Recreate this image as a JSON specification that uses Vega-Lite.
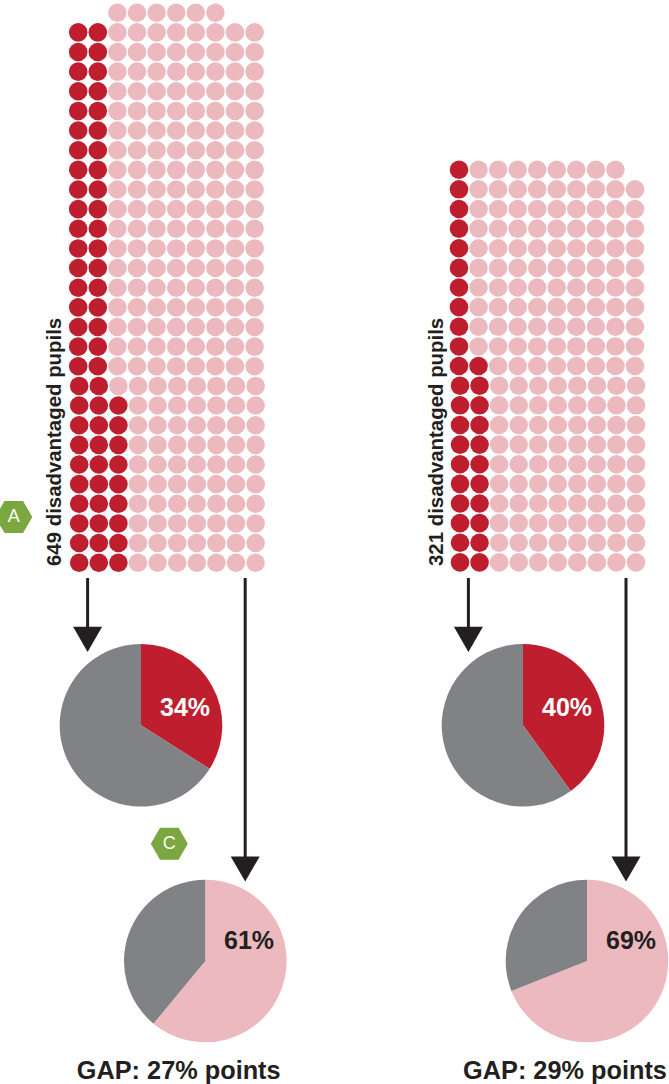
{
"$schema":"https://vega.github.io/schema/vega-lite/v6.json",
"width":669,"height":1084,"padding":0,
"autosize":{"type":"none"},
"background":"white",
"config":{"view":{"stroke":null}},
"datasets":{
"dotsLeft":[
{"col":0,"row":0,"met":1},{"col":1,"row":0,"met":1},{"col":2,"row":0,"met":1},{"col":3,"row":0,"met":0},{"col":4,"row":0,"met":0},{"col":5,"row":0,"met":0},{"col":6,"row":0,"met":0},{"col":7,"row":0,"met":0},{"col":8,"row":0,"met":0},{"col":9,"row":0,"met":0},
{"col":0,"row":1,"met":1},{"col":1,"row":1,"met":1},{"col":2,"row":1,"met":1},{"col":3,"row":1,"met":0},{"col":4,"row":1,"met":0},{"col":5,"row":1,"met":0},{"col":6,"row":1,"met":0},{"col":7,"row":1,"met":0},{"col":8,"row":1,"met":0},{"col":9,"row":1,"met":0},
{"col":0,"row":2,"met":1},{"col":1,"row":2,"met":1},{"col":2,"row":2,"met":1},{"col":3,"row":2,"met":0},{"col":4,"row":2,"met":0},{"col":5,"row":2,"met":0},{"col":6,"row":2,"met":0},{"col":7,"row":2,"met":0},{"col":8,"row":2,"met":0},{"col":9,"row":2,"met":0},
{"col":0,"row":3,"met":1},{"col":1,"row":3,"met":1},{"col":2,"row":3,"met":1},{"col":3,"row":3,"met":0},{"col":4,"row":3,"met":0},{"col":5,"row":3,"met":0},{"col":6,"row":3,"met":0},{"col":7,"row":3,"met":0},{"col":8,"row":3,"met":0},{"col":9,"row":3,"met":0},
{"col":0,"row":4,"met":1},{"col":1,"row":4,"met":1},{"col":2,"row":4,"met":1},{"col":3,"row":4,"met":0},{"col":4,"row":4,"met":0},{"col":5,"row":4,"met":0},{"col":6,"row":4,"met":0},{"col":7,"row":4,"met":0},{"col":8,"row":4,"met":0},{"col":9,"row":4,"met":0},
{"col":0,"row":5,"met":1},{"col":1,"row":5,"met":1},{"col":2,"row":5,"met":1},{"col":3,"row":5,"met":0},{"col":4,"row":5,"met":0},{"col":5,"row":5,"met":0},{"col":6,"row":5,"met":0},{"col":7,"row":5,"met":0},{"col":8,"row":5,"met":0},{"col":9,"row":5,"met":0},
{"col":0,"row":6,"met":1},{"col":1,"row":6,"met":1},{"col":2,"row":6,"met":1},{"col":3,"row":6,"met":0},{"col":4,"row":6,"met":0},{"col":5,"row":6,"met":0},{"col":6,"row":6,"met":0},{"col":7,"row":6,"met":0},{"col":8,"row":6,"met":0},{"col":9,"row":6,"met":0},
{"col":0,"row":7,"met":1},{"col":1,"row":7,"met":1},{"col":2,"row":7,"met":1},{"col":3,"row":7,"met":0},{"col":4,"row":7,"met":0},{"col":5,"row":7,"met":0},{"col":6,"row":7,"met":0},{"col":7,"row":7,"met":0},{"col":8,"row":7,"met":0},{"col":9,"row":7,"met":0},
{"col":0,"row":8,"met":1},{"col":1,"row":8,"met":1},{"col":2,"row":8,"met":1},{"col":3,"row":8,"met":0},{"col":4,"row":8,"met":0},{"col":5,"row":8,"met":0},{"col":6,"row":8,"met":0},{"col":7,"row":8,"met":0},{"col":8,"row":8,"met":0},{"col":9,"row":8,"met":0},
{"col":0,"row":9,"met":1},{"col":1,"row":9,"met":1},{"col":2,"row":9,"met":0},{"col":3,"row":9,"met":0},{"col":4,"row":9,"met":0},{"col":5,"row":9,"met":0},{"col":6,"row":9,"met":0},{"col":7,"row":9,"met":0},{"col":8,"row":9,"met":0},{"col":9,"row":9,"met":0},
{"col":0,"row":10,"met":1},{"col":1,"row":10,"met":1},{"col":2,"row":10,"met":0},{"col":3,"row":10,"met":0},{"col":4,"row":10,"met":0},{"col":5,"row":10,"met":0},{"col":6,"row":10,"met":0},{"col":7,"row":10,"met":0},{"col":8,"row":10,"met":0},{"col":9,"row":10,"met":0},
{"col":0,"row":11,"met":1},{"col":1,"row":11,"met":1},{"col":2,"row":11,"met":0},{"col":3,"row":11,"met":0},{"col":4,"row":11,"met":0},{"col":5,"row":11,"met":0},{"col":6,"row":11,"met":0},{"col":7,"row":11,"met":0},{"col":8,"row":11,"met":0},{"col":9,"row":11,"met":0},
{"col":0,"row":12,"met":1},{"col":1,"row":12,"met":1},{"col":2,"row":12,"met":0},{"col":3,"row":12,"met":0},{"col":4,"row":12,"met":0},{"col":5,"row":12,"met":0},{"col":6,"row":12,"met":0},{"col":7,"row":12,"met":0},{"col":8,"row":12,"met":0},{"col":9,"row":12,"met":0},
{"col":0,"row":13,"met":1},{"col":1,"row":13,"met":1},{"col":2,"row":13,"met":0},{"col":3,"row":13,"met":0},{"col":4,"row":13,"met":0},{"col":5,"row":13,"met":0},{"col":6,"row":13,"met":0},{"col":7,"row":13,"met":0},{"col":8,"row":13,"met":0},{"col":9,"row":13,"met":0},
{"col":0,"row":14,"met":1},{"col":1,"row":14,"met":1},{"col":2,"row":14,"met":0},{"col":3,"row":14,"met":0},{"col":4,"row":14,"met":0},{"col":5,"row":14,"met":0},{"col":6,"row":14,"met":0},{"col":7,"row":14,"met":0},{"col":8,"row":14,"met":0},{"col":9,"row":14,"met":0},
{"col":0,"row":15,"met":1},{"col":1,"row":15,"met":1},{"col":2,"row":15,"met":0},{"col":3,"row":15,"met":0},{"col":4,"row":15,"met":0},{"col":5,"row":15,"met":0},{"col":6,"row":15,"met":0},{"col":7,"row":15,"met":0},{"col":8,"row":15,"met":0},{"col":9,"row":15,"met":0},
{"col":0,"row":16,"met":1},{"col":1,"row":16,"met":1},{"col":2,"row":16,"met":0},{"col":3,"row":16,"met":0},{"col":4,"row":16,"met":0},{"col":5,"row":16,"met":0},{"col":6,"row":16,"met":0},{"col":7,"row":16,"met":0},{"col":8,"row":16,"met":0},{"col":9,"row":16,"met":0},
{"col":0,"row":17,"met":1},{"col":1,"row":17,"met":1},{"col":2,"row":17,"met":0},{"col":3,"row":17,"met":0},{"col":4,"row":17,"met":0},{"col":5,"row":17,"met":0},{"col":6,"row":17,"met":0},{"col":7,"row":17,"met":0},{"col":8,"row":17,"met":0},{"col":9,"row":17,"met":0},
{"col":0,"row":18,"met":1},{"col":1,"row":18,"met":1},{"col":2,"row":18,"met":0},{"col":3,"row":18,"met":0},{"col":4,"row":18,"met":0},{"col":5,"row":18,"met":0},{"col":6,"row":18,"met":0},{"col":7,"row":18,"met":0},{"col":8,"row":18,"met":0},{"col":9,"row":18,"met":0},
{"col":0,"row":19,"met":1},{"col":1,"row":19,"met":1},{"col":2,"row":19,"met":0},{"col":3,"row":19,"met":0},{"col":4,"row":19,"met":0},{"col":5,"row":19,"met":0},{"col":6,"row":19,"met":0},{"col":7,"row":19,"met":0},{"col":8,"row":19,"met":0},{"col":9,"row":19,"met":0},
{"col":0,"row":20,"met":1},{"col":1,"row":20,"met":1},{"col":2,"row":20,"met":0},{"col":3,"row":20,"met":0},{"col":4,"row":20,"met":0},{"col":5,"row":20,"met":0},{"col":6,"row":20,"met":0},{"col":7,"row":20,"met":0},{"col":8,"row":20,"met":0},{"col":9,"row":20,"met":0},
{"col":0,"row":21,"met":1},{"col":1,"row":21,"met":1},{"col":2,"row":21,"met":0},{"col":3,"row":21,"met":0},{"col":4,"row":21,"met":0},{"col":5,"row":21,"met":0},{"col":6,"row":21,"met":0},{"col":7,"row":21,"met":0},{"col":8,"row":21,"met":0},{"col":9,"row":21,"met":0},
{"col":0,"row":22,"met":1},{"col":1,"row":22,"met":1},{"col":2,"row":22,"met":0},{"col":3,"row":22,"met":0},{"col":4,"row":22,"met":0},{"col":5,"row":22,"met":0},{"col":6,"row":22,"met":0},{"col":7,"row":22,"met":0},{"col":8,"row":22,"met":0},{"col":9,"row":22,"met":0},
{"col":0,"row":23,"met":1},{"col":1,"row":23,"met":1},{"col":2,"row":23,"met":0},{"col":3,"row":23,"met":0},{"col":4,"row":23,"met":0},{"col":5,"row":23,"met":0},{"col":6,"row":23,"met":0},{"col":7,"row":23,"met":0},{"col":8,"row":23,"met":0},{"col":9,"row":23,"met":0},
{"col":0,"row":24,"met":1},{"col":1,"row":24,"met":1},{"col":2,"row":24,"met":0},{"col":3,"row":24,"met":0},{"col":4,"row":24,"met":0},{"col":5,"row":24,"met":0},{"col":6,"row":24,"met":0},{"col":7,"row":24,"met":0},{"col":8,"row":24,"met":0},{"col":9,"row":24,"met":0},
{"col":0,"row":25,"met":1},{"col":1,"row":25,"met":1},{"col":2,"row":25,"met":0},{"col":3,"row":25,"met":0},{"col":4,"row":25,"met":0},{"col":5,"row":25,"met":0},{"col":6,"row":25,"met":0},{"col":7,"row":25,"met":0},{"col":8,"row":25,"met":0},{"col":9,"row":25,"met":0},
{"col":0,"row":26,"met":1},{"col":1,"row":26,"met":1},{"col":2,"row":26,"met":0},{"col":3,"row":26,"met":0},{"col":4,"row":26,"met":0},{"col":5,"row":26,"met":0},{"col":6,"row":26,"met":0},{"col":7,"row":26,"met":0},{"col":8,"row":26,"met":0},{"col":9,"row":26,"met":0},
{"col":0,"row":27,"met":1},{"col":1,"row":27,"met":1},{"col":2,"row":27,"met":0},{"col":3,"row":27,"met":0},{"col":4,"row":27,"met":0},{"col":5,"row":27,"met":0},{"col":6,"row":27,"met":0},{"col":7,"row":27,"met":0},{"col":8,"row":27,"met":0},{"col":9,"row":27,"met":0},
{"col":2,"row":28,"met":0},{"col":3,"row":28,"met":0},{"col":4,"row":28,"met":0},{"col":5,"row":28,"met":0},{"col":6,"row":28,"met":0},{"col":7,"row":28,"met":0}
],
"dotsRight":[
{"col":0,"row":0,"met":1},{"col":1,"row":0,"met":1},{"col":2,"row":0,"met":0},{"col":3,"row":0,"met":0},{"col":4,"row":0,"met":0},{"col":5,"row":0,"met":0},{"col":6,"row":0,"met":0},{"col":7,"row":0,"met":0},{"col":8,"row":0,"met":0},{"col":9,"row":0,"met":0},
{"col":0,"row":1,"met":1},{"col":1,"row":1,"met":1},{"col":2,"row":1,"met":0},{"col":3,"row":1,"met":0},{"col":4,"row":1,"met":0},{"col":5,"row":1,"met":0},{"col":6,"row":1,"met":0},{"col":7,"row":1,"met":0},{"col":8,"row":1,"met":0},{"col":9,"row":1,"met":0},
{"col":0,"row":2,"met":1},{"col":1,"row":2,"met":1},{"col":2,"row":2,"met":0},{"col":3,"row":2,"met":0},{"col":4,"row":2,"met":0},{"col":5,"row":2,"met":0},{"col":6,"row":2,"met":0},{"col":7,"row":2,"met":0},{"col":8,"row":2,"met":0},{"col":9,"row":2,"met":0},
{"col":0,"row":3,"met":1},{"col":1,"row":3,"met":1},{"col":2,"row":3,"met":0},{"col":3,"row":3,"met":0},{"col":4,"row":3,"met":0},{"col":5,"row":3,"met":0},{"col":6,"row":3,"met":0},{"col":7,"row":3,"met":0},{"col":8,"row":3,"met":0},{"col":9,"row":3,"met":0},
{"col":0,"row":4,"met":1},{"col":1,"row":4,"met":1},{"col":2,"row":4,"met":0},{"col":3,"row":4,"met":0},{"col":4,"row":4,"met":0},{"col":5,"row":4,"met":0},{"col":6,"row":4,"met":0},{"col":7,"row":4,"met":0},{"col":8,"row":4,"met":0},{"col":9,"row":4,"met":0},
{"col":0,"row":5,"met":1},{"col":1,"row":5,"met":1},{"col":2,"row":5,"met":0},{"col":3,"row":5,"met":0},{"col":4,"row":5,"met":0},{"col":5,"row":5,"met":0},{"col":6,"row":5,"met":0},{"col":7,"row":5,"met":0},{"col":8,"row":5,"met":0},{"col":9,"row":5,"met":0},
{"col":0,"row":6,"met":1},{"col":1,"row":6,"met":1},{"col":2,"row":6,"met":0},{"col":3,"row":6,"met":0},{"col":4,"row":6,"met":0},{"col":5,"row":6,"met":0},{"col":6,"row":6,"met":0},{"col":7,"row":6,"met":0},{"col":8,"row":6,"met":0},{"col":9,"row":6,"met":0},
{"col":0,"row":7,"met":1},{"col":1,"row":7,"met":1},{"col":2,"row":7,"met":0},{"col":3,"row":7,"met":0},{"col":4,"row":7,"met":0},{"col":5,"row":7,"met":0},{"col":6,"row":7,"met":0},{"col":7,"row":7,"met":0},{"col":8,"row":7,"met":0},{"col":9,"row":7,"met":0},
{"col":0,"row":8,"met":1},{"col":1,"row":8,"met":1},{"col":2,"row":8,"met":0},{"col":3,"row":8,"met":0},{"col":4,"row":8,"met":0},{"col":5,"row":8,"met":0},{"col":6,"row":8,"met":0},{"col":7,"row":8,"met":0},{"col":8,"row":8,"met":0},{"col":9,"row":8,"met":0},
{"col":0,"row":9,"met":1},{"col":1,"row":9,"met":1},{"col":2,"row":9,"met":0},{"col":3,"row":9,"met":0},{"col":4,"row":9,"met":0},{"col":5,"row":9,"met":0},{"col":6,"row":9,"met":0},{"col":7,"row":9,"met":0},{"col":8,"row":9,"met":0},{"col":9,"row":9,"met":0},
{"col":0,"row":10,"met":1},{"col":1,"row":10,"met":1},{"col":2,"row":10,"met":0},{"col":3,"row":10,"met":0},{"col":4,"row":10,"met":0},{"col":5,"row":10,"met":0},{"col":6,"row":10,"met":0},{"col":7,"row":10,"met":0},{"col":8,"row":10,"met":0},{"col":9,"row":10,"met":0},
{"col":0,"row":11,"met":1},{"col":1,"row":11,"met":0},{"col":2,"row":11,"met":0},{"col":3,"row":11,"met":0},{"col":4,"row":11,"met":0},{"col":5,"row":11,"met":0},{"col":6,"row":11,"met":0},{"col":7,"row":11,"met":0},{"col":8,"row":11,"met":0},{"col":9,"row":11,"met":0},
{"col":0,"row":12,"met":1},{"col":1,"row":12,"met":0},{"col":2,"row":12,"met":0},{"col":3,"row":12,"met":0},{"col":4,"row":12,"met":0},{"col":5,"row":12,"met":0},{"col":6,"row":12,"met":0},{"col":7,"row":12,"met":0},{"col":8,"row":12,"met":0},{"col":9,"row":12,"met":0},
{"col":0,"row":13,"met":1},{"col":1,"row":13,"met":0},{"col":2,"row":13,"met":0},{"col":3,"row":13,"met":0},{"col":4,"row":13,"met":0},{"col":5,"row":13,"met":0},{"col":6,"row":13,"met":0},{"col":7,"row":13,"met":0},{"col":8,"row":13,"met":0},{"col":9,"row":13,"met":0},
{"col":0,"row":14,"met":1},{"col":1,"row":14,"met":0},{"col":2,"row":14,"met":0},{"col":3,"row":14,"met":0},{"col":4,"row":14,"met":0},{"col":5,"row":14,"met":0},{"col":6,"row":14,"met":0},{"col":7,"row":14,"met":0},{"col":8,"row":14,"met":0},{"col":9,"row":14,"met":0},
{"col":0,"row":15,"met":1},{"col":1,"row":15,"met":0},{"col":2,"row":15,"met":0},{"col":3,"row":15,"met":0},{"col":4,"row":15,"met":0},{"col":5,"row":15,"met":0},{"col":6,"row":15,"met":0},{"col":7,"row":15,"met":0},{"col":8,"row":15,"met":0},{"col":9,"row":15,"met":0},
{"col":0,"row":16,"met":1},{"col":1,"row":16,"met":0},{"col":2,"row":16,"met":0},{"col":3,"row":16,"met":0},{"col":4,"row":16,"met":0},{"col":5,"row":16,"met":0},{"col":6,"row":16,"met":0},{"col":7,"row":16,"met":0},{"col":8,"row":16,"met":0},{"col":9,"row":16,"met":0},
{"col":0,"row":17,"met":1},{"col":1,"row":17,"met":0},{"col":2,"row":17,"met":0},{"col":3,"row":17,"met":0},{"col":4,"row":17,"met":0},{"col":5,"row":17,"met":0},{"col":6,"row":17,"met":0},{"col":7,"row":17,"met":0},{"col":8,"row":17,"met":0},{"col":9,"row":17,"met":0},
{"col":0,"row":18,"met":1},{"col":1,"row":18,"met":0},{"col":2,"row":18,"met":0},{"col":3,"row":18,"met":0},{"col":4,"row":18,"met":0},{"col":5,"row":18,"met":0},{"col":6,"row":18,"met":0},{"col":7,"row":18,"met":0},{"col":8,"row":18,"met":0},{"col":9,"row":18,"met":0},
{"col":0,"row":19,"met":1},{"col":1,"row":19,"met":0},{"col":2,"row":19,"met":0},{"col":3,"row":19,"met":0},{"col":4,"row":19,"met":0},{"col":5,"row":19,"met":0},{"col":6,"row":19,"met":0},{"col":7,"row":19,"met":0},{"col":8,"row":19,"met":0},{"col":9,"row":19,"met":0},
{"col":0,"row":20,"met":1},{"col":1,"row":20,"met":0},{"col":2,"row":20,"met":0},{"col":3,"row":20,"met":0},{"col":4,"row":20,"met":0},{"col":5,"row":20,"met":0},{"col":6,"row":20,"met":0},{"col":7,"row":20,"met":0},{"col":8,"row":20,"met":0}
],
"pies":[
{"panel":"left","tier":1,"slice":"share","pct":0.34},{"panel":"left","tier":1,"slice":"rest","pct":0.66},
{"panel":"right","tier":1,"slice":"share","pct":0.40},{"panel":"right","tier":1,"slice":"rest","pct":0.60},
{"panel":"left","tier":2,"slice":"share","pct":0.61},{"panel":"left","tier":2,"slice":"rest","pct":0.39},
{"panel":"right","tier":2,"slice":"share","pct":0.69},{"panel":"right","tier":2,"slice":"rest","pct":0.31}
],
"arrows":[
{"panel":"left","kind":"short","from":0,"to":1},{"panel":"right","kind":"short","from":0,"to":1},
{"panel":"left","kind":"long","from":0,"to":1},{"panel":"right","kind":"long","from":0,"to":1}
],
"panels":[
{"panel":"left","count":"649 disadvantaged pupils","gap":"GAP: 27% points","row":0,"line":0},
{"panel":"right","count":"321 disadvantaged pupils","gap":"GAP: 29% points","row":0,"line":0}
],
"badges":[{"badge":"A"},{"badge":"C"}]
},
"resolve":{"scale":{"x":"independent","y":"independent","color":"independent","theta":"independent"}},
"layer":[
{"data":{"name":"dotsLeft"},"transform":[{"filter":"datum.row>=10"}],"mark":{"type":"circle","size":345,"opacity":1},
"encoding":{"x":{"field":"col","type":"quantitative","axis":null,"scale":{"domain":[0,9],"range":[78.2,254.6]}},
"y":{"field":"row","type":"quantitative","axis":null,"scale":{"domain":[0,28],"range":[562.7,12.7]}},
"color":{"field":"met","type":"nominal","legend":null,"scale":{"domain":[1,0],"range":["#be1e2d","#ecb9bf"]}}}},
{"data":{"name":"dotsLeft"},"transform":[{"filter":"datum.row<10"}],"mark":{"type":"circle","size":345,"opacity":1},
"encoding":{"x":{"field":"col","type":"quantitative","axis":null,"scale":{"domain":[0,9],"range":[79.2,255.6]}},
"y":{"field":"row","type":"quantitative","axis":null,"scale":{"domain":[0,28],"range":[562.7,12.7]}},
"color":{"field":"met","type":"nominal","legend":null,"scale":{"domain":[1,0],"range":["#be1e2d","#ecb9bf"]}}}},
{"data":{"name":"dotsRight"},"transform":[{"filter":"datum.row>=10"}],"mark":{"type":"circle","size":345,"opacity":1},
"encoding":{"x":{"field":"col","type":"quantitative","axis":null,"scale":{"domain":[0,9],"range":[459,635]}},
"y":{"field":"row","type":"quantitative","axis":null,"scale":{"domain":[0,20],"range":[562.4,169.7]}},
"color":{"field":"met","type":"nominal","legend":null,"scale":{"domain":[1,0],"range":["#be1e2d","#ecb9bf"]}}}},
{"data":{"name":"dotsRight"},"transform":[{"filter":"datum.row<10"}],"mark":{"type":"circle","size":345,"opacity":1},
"encoding":{"x":{"field":"col","type":"quantitative","axis":null,"scale":{"domain":[0,9],"range":[460,636]}},
"y":{"field":"row","type":"quantitative","axis":null,"scale":{"domain":[0,20],"range":[562.4,169.7]}},
"color":{"field":"met","type":"nominal","legend":null,"scale":{"domain":[1,0],"range":["#be1e2d","#ecb9bf"]}}}},
{"data":{"name":"arrows"},"transform":[{"filter":"datum.kind=='short'"}],"mark":{"type":"rule","strokeWidth":3,"color":"#231f20"},
"encoding":{"x":{"field":"panel","type":"nominal","axis":null,"scale":{"type":"point","padding":0,"domain":["left","right"],"range":[87.6,468.4]}},
"y":{"field":"from","type":"quantitative","axis":null,"scale":{"domain":[0,1],"range":[578,639.4]}},"y2":{"field":"to"}}},
{"data":{"name":"arrows"},"transform":[{"filter":"datum.kind=='short'"}],"mark":{"type":"point","shape":"triangle-down","filled":true,"size":841,"opacity":1,"color":"#231f20"},
"encoding":{"x":{"field":"panel","type":"nominal","axis":null,"scale":{"type":"point","padding":0,"domain":["left","right"],"range":[87.6,468.4]}},
"y":{"field":"to","type":"quantitative","axis":null,"scale":{"domain":[0,1],"range":[578,639.4]}}}},
{"data":{"name":"arrows"},"transform":[{"filter":"datum.kind=='long'"}],"mark":{"type":"rule","strokeWidth":3,"color":"#231f20"},
"encoding":{"x":{"field":"panel","type":"nominal","axis":null,"scale":{"type":"point","padding":0,"domain":["left","right"],"range":[245.2,626]}},
"y":{"field":"from","type":"quantitative","axis":null,"scale":{"domain":[0,1],"range":[578,869]}},"y2":{"field":"to"}}},
{"data":{"name":"arrows"},"transform":[{"filter":"datum.kind=='long'"}],"mark":{"type":"point","shape":"triangle-down","filled":true,"size":841,"opacity":1,"color":"#231f20"},
"encoding":{"x":{"field":"panel","type":"nominal","axis":null,"scale":{"type":"point","padding":0,"domain":["left","right"],"range":[245.2,626]}},
"y":{"field":"to","type":"quantitative","axis":null,"scale":{"domain":[0,1],"range":[578,869]}}}},
{"data":{"name":"pies"},"transform":[{"filter":"datum.tier==1"},{"stack":"pct","groupby":["panel","tier"],"sort":[{"field":"slice","order":"descending"}],"as":["start","end"]}],
"mark":{"type":"arc","outerRadius":81.3},
"encoding":{"x":{"field":"panel","type":"nominal","axis":null,"scale":{"type":"point","padding":0,"domain":["left","right"],"range":[141,523]}},
"y":{"field":"tier","type":"quantitative","stack":null,"axis":null,"scale":{"domain":[1,2],"range":[725.3,961]}},
"theta":{"field":"start","type":"quantitative","stack":null,"scale":{"domain":[0,1],"range":[0,6.28319]}},"theta2":{"field":"end"},
"color":{"field":"slice","type":"nominal","legend":null,"scale":{"domain":["share","rest"],"range":["#be1e2d","#808285"]}}}},
{"data":{"name":"pies"},"transform":[{"filter":"datum.tier==2"},{"stack":"pct","groupby":["panel","tier"],"sort":[{"field":"slice","order":"descending"}],"as":["start","end"]}],
"mark":{"type":"arc","outerRadius":81.3},
"encoding":{"x":{"field":"panel","type":"nominal","axis":null,"scale":{"type":"point","padding":0,"domain":["left","right"],"range":[205.3,587]}},
"y":{"field":"tier","type":"quantitative","stack":null,"axis":null,"scale":{"domain":[1,2],"range":[725.3,961]}},
"theta":{"field":"start","type":"quantitative","stack":null,"scale":{"domain":[0,1],"range":[0,6.28319]}},"theta2":{"field":"end"},
"color":{"field":"slice","type":"nominal","legend":null,"scale":{"domain":["share","rest"],"range":["#ecb9bf","#808285"]}}}},
{"data":{"name":"pies"},"transform":[{"filter":"datum.tier==1 && datum.slice=='share'"}],
"mark":{"type":"text","font":"Liberation Sans","fontWeight":"bold","fontSize":25,"color":"white","baseline":"middle","align":"center"},
"encoding":{"x":{"field":"panel","type":"nominal","axis":null,"scale":{"type":"point","padding":0,"domain":["left","right"],"range":[185,567]}},
"y":{"field":"tier","type":"quantitative","axis":null,"scale":{"domain":[1,2],"range":[707.5,941]}},
"text":{"field":"pct","type":"quantitative","format":".0%"}}},
{"data":{"name":"pies"},"transform":[{"filter":"datum.tier==2 && datum.slice=='share'"}],
"mark":{"type":"text","font":"Liberation Sans","fontWeight":"bold","fontSize":25,"color":"#231f20","baseline":"middle","align":"center"},
"encoding":{"x":{"field":"panel","type":"nominal","axis":null,"scale":{"type":"point","padding":0,"domain":["left","right"],"range":[249,631]}},
"y":{"field":"tier","type":"quantitative","axis":null,"scale":{"domain":[1,2],"range":[707.5,941]}},
"text":{"field":"pct","type":"quantitative","format":".0%"}}},
{"data":{"name":"panels"},
"mark":{"type":"text","font":"Liberation Sans","fontWeight":"bold","fontSize":20.4,"color":"#231f20","angle":270,"align":"left","baseline":"alphabetic"},
"encoding":{"x":{"field":"panel","type":"nominal","axis":null,"scale":{"type":"point","padding":0,"domain":["left","right"],"range":[61,443]}},
"y":{"field":"row","type":"quantitative","axis":null,"scale":{"domain":[0,1],"range":[566,0]}},
"text":{"field":"count","type":"nominal"}}},
{"data":{"name":"panels"},
"mark":{"type":"text","font":"Liberation Sans","fontWeight":"bold","fontSize":25.3,"color":"#231f20","align":"center","baseline":"alphabetic"},
"encoding":{"x":{"field":"panel","type":"nominal","axis":null,"scale":{"type":"point","padding":0,"domain":["left","right"],"range":[178.7,565]}},
"y":{"field":"line","type":"quantitative","axis":null,"scale":{"domain":[0,1],"range":[1079,0]}},
"text":{"field":"gap","type":"nominal"}}},
{"data":{"name":"badges"},
"mark":{"type":"point","shape":"M-1,0L-0.5,-0.866L0.5,-0.866L1,0L0.5,0.866L-0.5,0.866Z","filled":true,"size":1369,"opacity":1,"color":"#7aa73f"},
"encoding":{"x":{"field":"badge","type":"nominal","axis":null,"scale":{"type":"point","padding":0,"domain":["A","C"],"range":[13.8,169.3]}},
"y":{"field":"badge","type":"nominal","axis":null,"scale":{"type":"point","padding":0,"domain":["A","C"],"range":[517,843.7]}}}},
{"data":{"name":"badges"},
"mark":{"type":"text","font":"Liberation Sans","fontSize":18,"color":"white","align":"center","baseline":"middle"},
"encoding":{"x":{"field":"badge","type":"nominal","axis":null,"scale":{"type":"point","padding":0,"domain":["A","C"],"range":[13.8,169.3]}},
"y":{"field":"badge","type":"nominal","axis":null,"scale":{"type":"point","padding":0,"domain":["A","C"],"range":[517,843.7]}},
"text":{"field":"badge","type":"nominal"}}}
]
}
